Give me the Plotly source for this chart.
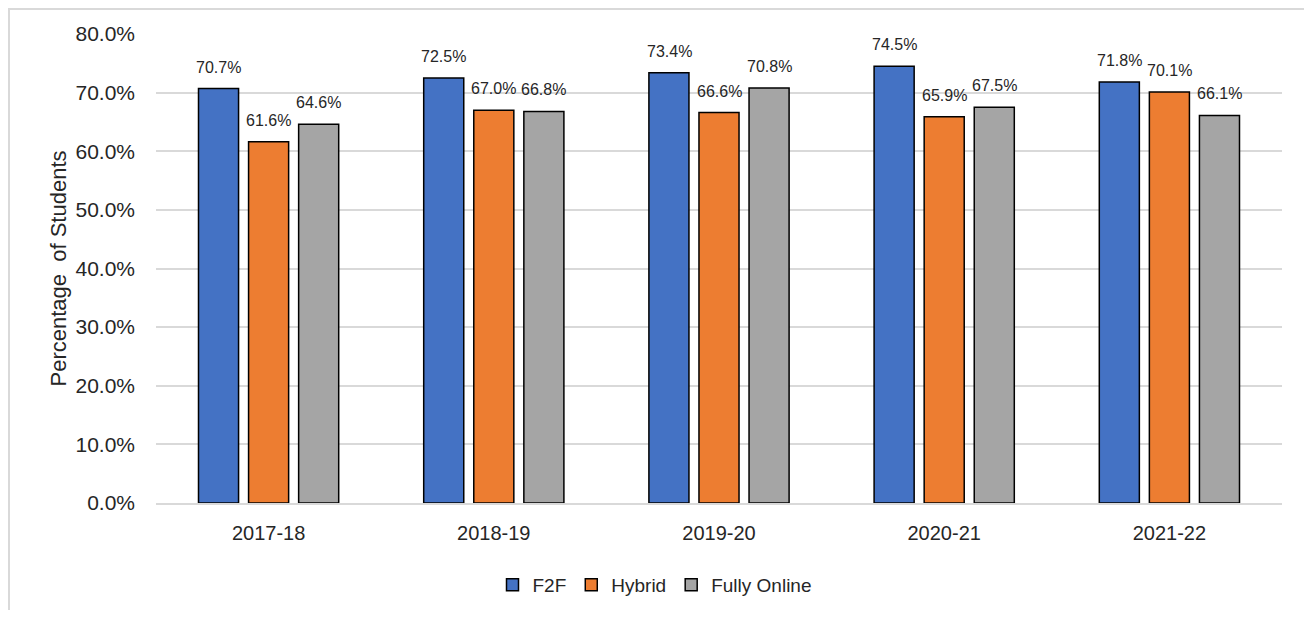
import plotly.graph_objects as go

years = ["2017-18", "2018-19", "2019-20", "2020-21", "2021-22"]
f2f = [70.7, 72.5, 73.4, 74.5, 71.8]
hybrid = [61.6, 67.0, 66.6, 65.9, 70.1]
online = [64.6, 66.8, 70.8, 67.5, 66.1]
series = [("F2F", f2f, "#4472C4"), ("Hybrid", hybrid, "#ED7D31"), ("Fully Online", online, "#A5A5A5")]
tickvals = [0, 10, 20, 30, 40, 50, 60, 70, 80]
ticktext = [f"{v:.1f}%" for v in tickvals]

FONT = "Liberation Sans, Arial"
TXT = "#262626"
OFF = 8  # page body margin

fig = go.Figure()
annotations = []
for i, (name, vals, color) in enumerate(series):
    fig.add_trace(go.Bar(
        x=years, y=vals, name=name,
        marker=dict(color=color, line=dict(color="#000000", width=1.5)),
    ))
    for yr, v in zip(years, vals):
        annotations.append(dict(
            x=yr, y=v, xref="x", yref="y", text=f"{v:.1f}%", showarrow=False,
            yanchor="bottom", xanchor="center", xshift=(i - 1) * 50, yshift=11,
            font=dict(family=FONT, size=16, color=TXT),
        ))

W, H = 1312 - 2 * OFF, 618 - 2 * OFF
L = 156 - OFF
T = 34 - OFF
R = W - (1282 - OFF)
B = H - (503 - OFF)
pw, ph = W - L - R, H - T - B

def px(xp):  # page x -> paper
    return (xp - OFF - L) / pw

def py(yp):  # page y -> paper
    return (H - B - (yp - OFF)) / ph

fig.update_layout(
    width=W, height=H,
    margin=dict(l=L, r=R, t=T, b=B, autoexpand=False),
    plot_bgcolor="white", paper_bgcolor="white",
    barmode="group", bargap=0.333, bargroupgap=0.2,
    font=dict(family=FONT, color=TXT),
    showlegend=True,
    legend=dict(orientation="h", x=px(655), xanchor="center",
                y=py(585), yanchor="middle",
                font=dict(size=19, color=TXT), traceorder="normal", itemwidth=30),
    yaxis=dict(range=[0, 80], tickvals=tickvals, ticktext=ticktext,
               showgrid=True, gridcolor="#D9D9D9", gridwidth=1.5, zeroline=False,
               tickfont=dict(size=21, color=TXT), ticks="", ticklabelstandoff=20,
               title=dict(text="Percentage  of Students", font=dict(size=22, color=TXT), standoff=2),
               showline=False),
    xaxis=dict(tickfont=dict(size=20, color=TXT), showline=True, linecolor="#D9D9D9", linewidth=1.5,
               ticks="", ticklabelstandoff=11),
    annotations=annotations,
)
fig.add_shape(type="rect", xref="paper", yref="paper",
              x0=px(OFF + 1), x1=px(1305),
              y0=py(660), y1=py(OFF + 1),
              line=dict(color="#D9D9D9", width=2), fillcolor="rgba(0,0,0,0)", layer="below")
fig.write_html("out.html")
